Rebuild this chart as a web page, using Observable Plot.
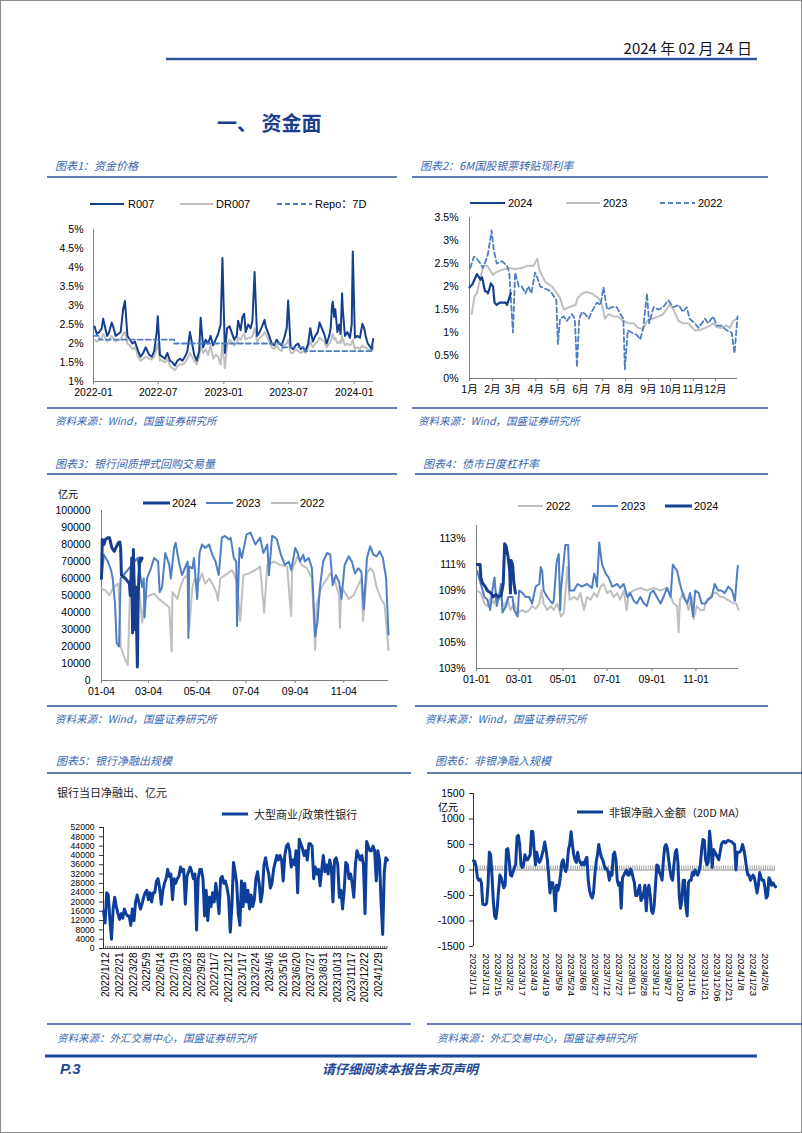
<!DOCTYPE html>
<html><head><meta charset="utf-8">
<script src="https://cdn.jsdelivr.net/npm/d3@7"></script>
<script src="https://cdn.jsdelivr.net/npm/@observablehq/plot@0.6"></script>
<style>
html,body{margin:0;padding:0;background:#fff;}
#page{position:relative;width:802px;height:1133px;overflow:hidden;background:#fff;}
</style></head><body><div id="page"></div>
<script>
// ---------------- DATA ----------------
// Chart 1: 资金价格
const c1Dates = ["2022-01-04","2022-01-10","2022-01-17","2022-01-24","2022-01-28","2022-02-08","2022-02-14","2022-02-21","2022-02-25","2022-03-04","2022-03-11","2022-03-18","2022-03-25","2022-03-30","2022-04-06","2022-04-13","2022-04-20","2022-04-27","2022-05-06","2022-05-13","2022-05-20","2022-05-27","2022-06-06","2022-06-13","2022-06-20","2022-06-27","2022-06-30","2022-07-06","2022-07-13","2022-07-20","2022-07-27","2022-08-03","2022-08-10","2022-08-17","2022-08-24","2022-08-31","2022-09-07","2022-09-14","2022-09-21","2022-09-28","2022-10-10","2022-10-17","2022-10-24","2022-10-28","2022-11-04","2022-11-11","2022-11-18","2022-11-25","2022-12-02","2022-12-09","2022-12-16","2022-12-23","2022-12-28","2023-01-04","2023-01-10","2023-01-17","2023-01-30","2023-02-06","2023-02-10","2023-02-17","2023-02-22","2023-02-27","2023-03-03","2023-03-10","2023-03-17","2023-03-22","2023-03-28","2023-04-04","2023-04-11","2023-04-18","2023-04-25","2023-04-28","2023-05-08","2023-05-15","2023-05-22","2023-05-29","2023-06-05","2023-06-12","2023-06-19","2023-06-26","2023-06-30","2023-07-07","2023-07-14","2023-07-21","2023-07-28","2023-08-04","2023-08-11","2023-08-18","2023-08-25","2023-08-31","2023-09-07","2023-09-14","2023-09-21","2023-09-26","2023-10-09","2023-10-16","2023-10-23","2023-10-27","2023-10-31","2023-11-02","2023-11-06","2023-11-09","2023-11-15","2023-11-20","2023-11-24","2023-11-28","2023-11-30","2023-12-06","2023-12-13","2023-12-20","2023-12-25","2023-12-28","2024-01-03","2024-01-10","2024-01-17","2024-01-24","2024-01-29","2024-02-02","2024-02-08","2024-02-19","2024-02-23"];
const r007 = [2.45,2.25,2.30,2.40,2.65,2.20,2.30,2.55,2.45,2.20,2.25,2.30,2.90,3.12,2.20,2.10,2.00,2.05,1.80,1.65,1.75,1.90,1.70,1.65,1.80,2.30,2.72,1.70,1.65,1.60,1.75,1.55,1.50,1.42,1.55,1.60,1.55,1.65,1.80,2.30,1.70,1.55,1.80,2.68,1.90,2.10,2.00,2.20,1.95,2.10,2.25,2.50,4.25,1.75,2.40,2.45,2.10,2.20,2.60,2.35,2.70,2.78,2.30,2.50,2.40,2.60,3.88,2.20,2.30,2.45,2.62,2.45,2.20,2.00,1.95,2.10,2.00,1.95,2.15,2.40,3.13,1.90,1.85,1.95,2.00,1.85,1.90,1.80,2.00,2.40,2.05,2.20,2.30,2.55,2.25,2.00,2.20,2.40,3.00,3.10,2.70,2.90,2.30,2.50,2.25,3.32,2.90,2.20,2.30,2.15,2.50,4.42,2.15,2.20,2.15,2.52,2.40,2.20,2.00,1.85,2.12];
const dr007 = [2.10,2.05,2.10,2.15,2.25,2.05,2.10,2.20,2.15,2.05,2.10,2.10,2.25,2.30,2.00,1.95,1.85,1.90,1.65,1.55,1.60,1.65,1.60,1.58,1.65,1.90,2.00,1.55,1.55,1.50,1.60,1.40,1.35,1.30,1.40,1.45,1.45,1.50,1.60,1.75,1.55,1.45,1.65,1.95,1.75,1.85,1.70,1.95,1.60,1.70,1.65,1.45,2.00,1.35,1.95,2.10,1.95,2.00,2.15,2.10,2.20,2.25,2.10,2.15,2.15,2.20,2.40,2.05,2.15,2.20,2.30,2.25,2.05,1.90,1.85,1.95,1.85,1.80,1.95,2.00,2.10,1.75,1.75,1.85,1.80,1.75,1.80,1.75,1.90,2.05,1.90,2.00,2.05,2.15,2.05,1.90,2.00,2.05,2.20,2.25,2.10,2.15,2.00,2.05,2.00,2.20,2.10,1.95,2.00,1.95,2.00,2.10,1.85,1.90,1.85,1.95,1.90,1.90,1.85,1.80,1.90];
const repoDates = ["2022-01-01","2022-01-17","2022-08-15","2023-06-13","2023-08-15","2024-02-23"];
const repoRate = [2.2,2.1,2.0,1.9,1.8,1.8];
const c1YTicks = [1,1.5,2,2.5,3,3.5,4,4.5,5];
const c1XTicks = ["2022-01-01","2022-07-01","2023-01-01","2023-07-01","2024-01-01"];

// Chart 2: 6M国股银票转贴现利率 (day of year)
const c2Doy2024 = [1,5,11,14,16,18,22,25,26,28,30,33,35,38,42,50,52,57];
const c2Val2024 = [1.98,2.05,2.27,2.2,2.15,2.2,1.9,1.88,1.85,1.95,2.07,2.0,1.65,1.6,1.65,1.65,1.6,1.85];
const c2Doy2023 = [4,8,11,16,20,25,29,33,36,43,54,63,72,79,88,93,96,104,113,120,124,129,136,145,148,154,160,167,176,181,185,190,197,203,210,217,224,230,237,242,249,258,264,273,278,285,291,298,307,314,321,328,332,337,343,350,355,359,364];
const c2Val2023 = [1.4,1.8,1.85,2.2,2.45,2.45,2.35,2.25,2.3,2.35,2.4,2.38,2.4,2.45,2.45,2.6,2.35,2.1,2.0,1.85,1.75,1.5,1.55,1.6,1.75,1.85,1.88,1.85,1.75,1.6,1.3,1.4,1.35,1.35,1.25,1.2,1.2,1.1,1.08,1.25,1.3,1.35,1.4,1.6,1.5,1.25,1.2,1.2,1.05,1.05,1.1,1.15,1.2,1.12,1.1,1.15,1.1,1.25,1.3];
const c2Doy2022 = [2,7,11,16,19,23,26,31,34,38,45,52,55,60,63,68,72,77,81,85,90,93,97,104,111,115,119,121,124,129,133,140,144,147,150,154,158,163,167,174,179,183,188,194,201,206,210,212,216,221,228,233,237,242,245,251,258,264,271,278,285,291,296,300,307,312,321,325,332,337,343,350,357,361,365];
const c2Val2022 = [2.4,2.65,2.6,2.5,2.4,2.55,2.7,3.22,2.8,2.5,2.55,2.45,2.3,1.0,2.3,2.0,2.0,1.85,2.0,1.85,2.3,2.2,2.0,1.95,1.9,1.8,1.7,0.75,1.3,1.35,1.25,1.4,1.3,0.25,1.3,1.45,1.4,1.3,1.45,1.65,1.6,1.98,1.5,1.55,1.55,1.4,1.3,0.2,1.05,1.0,0.95,0.85,1.1,1.85,1.2,1.55,1.5,1.55,1.7,1.55,1.6,1.45,1.55,1.3,1.2,1.1,1.3,1.2,1.35,1.15,1.15,1.05,1.0,0.55,1.35];
const c2MonthDoy = [1,32,60,91,121,152,182,213,244,274,305,335];
const c2MonthLabels = ["1月","2月","3月","4月","5月","6月","7月","8月","9月","10月","11月","12月"];
const c2YTicks = [0,0.5,1,1.5,2,2.5,3,3.5];

// Chart 3: 银行间质押式回购交易量 (亿元, day of year)
const c3Doy2024 = [4,5,7,9,12,14,17,20,22,25,27,28,29,34,39,40,42,43,44,46,47,49,50,52,53,55];
const c3Val2024 = [60000,83000,80000,83000,84000,84000,78000,76000,78000,81000,81500,78000,62000,60000,57000,50000,72000,28000,77000,30000,55000,8000,50000,72000,70000,72000];
const c3Doy2023 = [4,7,12,16,18,21,23,26,28,37,49,55,57,58,61,66,70,75,77,80,84,89,91,95,97,101,105,112,113,114,118,120,124,127,130,134,139,143,147,151,155,159,164,166,170,173,174,177,180,186,191,197,203,207,212,214,218,222,224,229,234,239,242,247,250,253,257,259,264,268,272,275,278,282,287,291,294,298,302,305,309,314,318,322,326,330,333,337,341,345,349,353,357,361,364];
const c3Val2023 = [60000,74000,70000,65000,60000,45000,22000,20000,60000,65000,72000,55000,60000,37000,60000,66000,72000,70000,52000,55000,75000,68000,60000,78000,81000,70000,62000,70000,25000,67000,66000,72000,48000,75000,80000,78000,80000,74000,70000,62000,84000,85000,83000,84000,72000,70000,32000,78000,72000,86000,87000,80000,84000,75000,80000,62000,85000,84000,83000,74000,68000,70000,65000,78000,75000,70000,74000,70000,72000,66000,26000,35000,55000,70000,75000,74000,56000,62000,58000,48000,68000,73000,70000,63000,66000,64000,42000,72000,79000,74000,73000,76000,72000,60000,27000];
const c3Doy2022 = [4,9,14,18,22,25,27,28,34,37,40,45,49,51,55,58,64,70,76,84,89,92,93,99,103,107,112,114,118,121,126,130,134,139,143,148,150,153,159,168,174,178,182,189,197,203,208,212,220,228,237,240,242,243,250,255,262,268,272,274,280,287,291,297,302,303,305,309,314,320,326,330,332,337,341,345,349,353,357,359,364];
const c3Val2022 = [54000,53000,50000,54000,56000,57000,40000,20000,12000,9000,55000,60000,50000,55000,34000,48000,50000,51000,48000,45000,43000,17000,52000,48000,55000,60000,62000,30000,55000,60000,58000,63000,57000,60000,57000,52000,47000,60000,62000,65000,58000,35000,62000,63000,65000,67000,40000,68000,70000,68000,67000,48000,38000,65000,73000,68000,66000,60000,18000,45000,55000,60000,63000,58000,50000,31000,55000,52000,48000,50000,56000,60000,35000,63000,66000,64000,55000,50000,46000,45000,18000];
const c3XTickDoy = [4,63,124,185,247,308];
const c3XLabels = ["01-04","03-04","05-04","07-04","09-04","11-04"];

// Chart 4: 债市日度杠杆率 (%, day of year)
const c4Doy2024 = [2,6,7,9,13,16,21,24,28,31,35,38,40,42,45,47,48,49,51,53,55];
const c4Val2024 = [111.0,111.0,110.0,109.6,109.3,109.0,108.8,108.5,108.7,108.5,108.6,109.5,112.6,112.4,111.5,110.5,108.8,111.3,111.0,109.5,108.8];
const c4Doy2023 = [2,7,12,16,20,23,26,29,32,35,37,42,45,51,53,58,60,65,69,74,78,83,88,90,92,94,99,106,108,112,115,117,118,124,128,130,136,141,147,154,161,164,166,168,171,175,180,184,189,196,200,205,210,214,219,223,228,233,237,242,246,251,256,260,265,270,273,279,283,288,293,297,301,304,309,313,318,322,327,331,336,340,345,350,355,359,363];
const c4Val2023 = [110.5,109.5,108.5,108.3,107.5,109.0,110.0,107.8,108.5,109.5,107.3,107.8,108.5,108.5,107.5,107.0,109.0,108.8,108.5,108.5,108.0,109.3,109.5,110.8,110.5,109.0,108.5,108.0,108.2,111.2,111.8,107.5,109.0,112.5,112.5,109.0,109.0,109.5,109.3,109.5,109.2,110.3,110.0,109.3,112.7,111.0,110.3,110.0,109.3,109.5,109.2,109.5,108.5,108.8,108.2,108.0,108.5,108.0,107.8,108.8,109.0,108.5,108.0,108.5,109.2,108.5,111.0,110.5,109.5,108.5,108.0,108.8,107.0,109.0,108.8,108.0,108.0,108.3,108.5,109.5,109.0,109.0,108.8,109.3,109.0,108.2,110.9];
const c4Doy2022 = [2,7,12,16,21,25,30,35,39,44,48,53,58,65,69,74,78,83,88,91,94,99,104,108,113,118,122,127,130,136,141,145,150,154,159,164,168,173,177,182,187,191,196,200,205,209,212,219,228,237,246,256,265,274,279,281,283,288,295,299,302,306,311,316,320,325,329,334,339,343,348,352,357,361,364];
const c4Val2022 = [109.0,108.8,108.0,107.8,108.5,108.0,108.5,108.3,107.8,108.3,107.5,108.0,107.3,107.5,107.3,107.5,107.8,107.6,108.0,109.0,108.0,107.5,107.8,107.5,108.0,107.0,107.3,110.8,108.3,108.5,108.3,108.8,107.5,108.5,108.3,108.8,108.5,109.3,109.5,108.8,109.0,108.5,108.8,108.3,109.0,107.5,108.8,109.0,109.2,109.0,109.2,109.0,109.2,108.0,107.8,105.8,108.3,108.8,107.5,108.5,106.8,107.8,107.5,107.5,108.3,108.5,108.8,108.8,108.5,108.5,108.3,108.2,108.0,108.0,107.5];
const c4XTickDoy = [1,60,121,182,244,305];
const c4XLabels = ["01-01","03-01","05-01","07-01","09-01","11-01"];
const c4YTicks = [103,105,107,109,111,113];

// Chart 5: 银行当日净融出 (亿元), trading days 2022/1/4 - 2024/2/23, regular samples
const c5Vals = [16000,11000,24000,23000,12000,4000,17000,22000,18000,15000,12500,15000,13000,17000,15000,14000,14000,10000,17000,12000,20000,23000,20000,17000,19000,22000,24000,25000,21000,24000,20000,24000,24000,29000,30000,26000,19000,25000,28000,30000,34000,31000,32000,21000,30000,28000,30000,31000,35000,33000,34000,19000,31000,33000,35000,33000,30000,32000,8000,30000,34000,34000,30000,14000,25000,12000,22000,18000,24000,20000,28000,22000,15000,30000,31000,28000,29000,26000,22000,7000,18000,37000,33000,28000,15000,10000,29000,18000,28000,20000,25000,17000,23000,18000,21000,30000,33000,28000,20000,24000,36000,39000,35000,32000,26000,28000,34000,37000,40000,38000,40000,38000,29000,40000,44000,45000,42000,35000,38000,36000,42000,24000,47000,45000,43000,40000,42000,38000,45000,45000,44000,30000,35000,32000,34000,27000,34000,40000,33000,36000,32000,38000,35000,20000,38000,39000,36000,22000,25000,17000,25000,37000,36000,30000,32000,28000,22000,36000,42000,40000,38000,40000,36000,15000,46000,44000,42000,42000,44000,42000,29000,42000,38000,20000,6000,33000,39000,38000];
const c5Labels = ["2022/1/12","2022/2/21","2022/3/28","2022/5/9","2022/6/14","2022/7/19","2022/8/23","2022/9/28","2022/11/7","2022/12/12","2023/1/17","2023/2/24","2023/4/6","2023/5/16","2023/6/20","2023/7/27","2023/8/31","2023/10/13","2023/11/17","2023/12/22","2024/1/29"];

// Chart 6: 非银净融入金额（20D MA）, trading days 2023/1/11 - 2024/2/23, regular samples
const c6Vals = [180,170,50,-150,-200,-180,-250,-670,-680,-680,-650,-300,350,300,-100,-600,-900,-950,-750,-400,-100,-150,-250,-350,-300,400,420,200,-100,-120,-30,50,100,650,680,500,100,50,100,300,200,200,250,300,760,750,400,100,350,200,150,200,300,400,550,400,200,-100,-450,-250,-250,-400,-800,-300,-400,-300,-100,150,200,50,-30,100,400,500,750,500,300,200,150,350,200,150,100,150,100,200,250,-200,-400,-500,-550,-450,-100,150,300,500,350,250,200,100,20,30,-40,-200,-50,-100,300,350,200,-200,-300,-250,-750,-150,-100,-50,0,-100,-100,20,-30,-150,-250,-500,-500,-400,-300,-600,-550,-450,-300,-800,-400,-300,-500,-800,-850,-700,-300,100,80,-50,-100,-200,200,450,500,420,200,0,-150,-200,100,350,400,150,-500,-750,-600,-200,-200,-700,-900,-250,-200,-200,-50,-100,0,-50,-100,-30,100,400,600,580,200,100,150,760,500,50,400,350,300,250,200,350,500,550,560,530,560,580,570,560,550,520,500,0,350,350,350,400,500,400,250,50,-100,-100,-200,-150,-100,-150,-300,-450,-300,-50,-150,-200,-200,-350,-550,-500,-150,-200,-300,-250,-300,-330];
const c6Labels = ["2023/1/11","2023/1/31","2023/2/15","2023/3/2","2023/3/17","2023/4/3","2023/4/19","2023/5/9","2023/5/24","2023/6/8","2023/6/27","2023/7/12","2023/7/27","2023/8/11","2023/8/28","2023/9/12","2023/9/27","2023/10/20","2023/11/6","2023/11/21","2023/12/06","2023/12/21","2024/1/8","2024/1/23","2024/2/6"];

// ---------------- STYLE ----------------
const DARK = "#153f8e", MID = "#4f7ec3", GREY = "#bfbfbf", LINE5 = "#0d3f9a";
const AXIS = "#7f7f7f", TITLE = "#3864b0", RULE = "#2e5597";
const FONT = "'Liberation Sans', Arial, 'Noto Sans CJK SC', sans-serif";
const CJK = "'Noto Sans CJK SC', 'Liberation Sans', sans-serif";
const baseStyle = {background: "transparent", fontFamily: FONT, fontSize: "10.5px", color: "#000", overflow: "visible"};
const page = document.getElementById("page");
function place(svg, left, top) {
  svg.style.position = "absolute"; svg.style.left = left + "px"; svg.style.top = top + "px";
  svg.style.maxWidth = "none"; page.appendChild(svg);
}
const zip = (xs, ys) => xs.map((x, i) => ({x, v: ys[i]}));

// ---------------- CHART 1 ----------------
const c1Data = c1Dates.map((d, i) => ({date: new Date(d), r: r007[i], dr: dr007[i]}));
const repoData = repoDates.map((d, i) => ({date: new Date(d), v: repoRate[i]}));
const c1x0 = new Date("2022-01-01");
place(Plot.plot({
  width: 365, height: 195, marginLeft: 53, marginRight: 32, marginTop: 14, marginBottom: 29,
  style: baseStyle,
  x: {type: "utc", domain: [c1x0, new Date("2024-02-24")]},
  y: {domain: [1, 5]},
  marks: [
    Plot.axisY({ticks: c1YTicks, tickFormat: d => d + "%", tickSize: 0, tickPadding: 10, label: null, fill: "#000"}),
    Plot.axisX({ticks: c1XTicks.map(d => new Date(d)), tickFormat: d3.utcFormat("%Y-%m"), tickSize: 3, tickPadding: 4, label: null, stroke: AXIS, fill: "#000"}),
    Plot.ruleY([1], {stroke: AXIS}),
    Plot.ruleX([c1x0], {stroke: AXIS}),
    Plot.line(c1Data, {x: "date", y: "dr", stroke: GREY, strokeWidth: 2}),
    Plot.line(c1Data, {x: "date", y: "r", stroke: DARK, strokeWidth: 2}),
    Plot.line(repoData, {x: "date", y: "v", curve: "step-after", stroke: MID, strokeWidth: 1.8, strokeDasharray: "5,3"})
  ]
}), 40, 215);

// ---------------- CHART 2 ----------------
place(Plot.plot({
  width: 345, height: 200, marginLeft: 49, marginRight: 28, marginTop: 12, marginBottom: 27,
  style: baseStyle,
  x: {domain: [1, 365]},
  y: {domain: [0, 3.5]},
  marks: [
    Plot.axisY({ticks: c2YTicks, tickFormat: d => d + "%", tickSize: 0, tickPadding: 11, label: null, fill: "#000"}),
    Plot.axisX({ticks: c2MonthDoy, tickFormat: d => c2MonthLabels[c2MonthDoy.indexOf(d)], tickSize: 3, tickPadding: 4, label: null, stroke: AXIS, fill: "#000"}),
    Plot.ruleY([0], {stroke: AXIS}),
    Plot.ruleX([1], {stroke: AXIS}),
    Plot.line(zip(c2Doy2023, c2Val2023), {x: "x", y: "v", stroke: GREY, strokeWidth: 2}),
    Plot.line(zip(c2Doy2022, c2Val2022), {x: "x", y: "v", stroke: MID, strokeWidth: 1.8, strokeDasharray: "5,3"}),
    Plot.line(zip(c2Doy2024, c2Val2024), {x: "x", y: "v", stroke: DARK, strokeWidth: 2.2})
  ]
}), 420, 205);

// ---------------- CHART 3 ----------------
place(Plot.plot({
  width: 355, height: 205, marginLeft: 56, marginRight: 12, marginTop: 10, marginBottom: 25,
  style: baseStyle,
  x: {domain: [4, 364]},
  y: {domain: [0, 100000]},
  marks: [
    Plot.axisY({ticks: d3.range(0, 100001, 10000), tickFormat: d => String(d), tickSize: 0, tickPadding: 11, label: null, fill: "#000"}),
    Plot.axisX({ticks: c3XTickDoy, tickFormat: d => c3XLabels[c3XTickDoy.indexOf(d)], tickSize: 3, tickPadding: 4, label: null, stroke: AXIS, fill: "#000"}),
    Plot.ruleY([0], {stroke: AXIS}),
    Plot.ruleX([4], {stroke: AXIS}),
    Plot.line(zip(c3Doy2022, c3Val2022), {x: "x", y: "v", stroke: GREY, strokeWidth: 2}),
    Plot.line(zip(c3Doy2023, c3Val2023), {x: "x", y: "v", stroke: MID, strokeWidth: 2}),
    Plot.line(zip(c3Doy2024, c3Val2024), {x: "x", y: "v", stroke: DARK, strokeWidth: 3})
  ]
}), 45, 500);

// ---------------- CHART 4 ----------------
place(Plot.plot({
  width: 330, height: 180, marginLeft: 51, marginRight: 17, marginTop: 10, marginBottom: 27,
  style: baseStyle,
  x: {domain: [1, 364]},
  y: {domain: [103, 114]},
  marks: [
    Plot.axisY({ticks: c4YTicks, tickFormat: d => d + "%", tickSize: 0, tickPadding: 11, label: null, fill: "#000"}),
    Plot.axisX({ticks: c4XTickDoy, tickFormat: d => c4XLabels[c4XTickDoy.indexOf(d)], tickSize: 3, tickPadding: 4, label: null, stroke: AXIS, fill: "#000"}),
    Plot.ruleY([103], {stroke: AXIS}),
    Plot.ruleX([1], {stroke: AXIS}),
    Plot.line(zip(c4Doy2022, c4Val2022), {x: "x", y: "v", stroke: GREY, strokeWidth: 2}),
    Plot.line(zip(c4Doy2023, c4Val2023), {x: "x", y: "v", stroke: MID, strokeWidth: 2}),
    Plot.line(zip(c4Doy2024, c4Val2024), {x: "x", y: "v", stroke: DARK, strokeWidth: 3})
  ]
}), 425, 515);

// ---------------- CHART 5 ----------------
const c5N = 521;
const c5Data = c5Vals.map((v, i) => ({x: i * c5N / (c5Vals.length - 1), v}));
const c5TickIdx = c5Labels.map((_, k) => 5 + 25 * k);
place(Plot.plot({
  width: 360, height: 205, marginLeft: 58, marginRight: 18, marginTop: 12, marginBottom: 72,
  style: baseStyle,
  x: {domain: [0, c5N]},
  y: {domain: [0, 52000]},
  marks: [
    Plot.axisY({ticks: d3.range(0, 52001, 4000), tickFormat: d => String(d), tickSize: 4, tickPadding: 5, label: null, stroke: "#333", fill: "#000", fontSize: 8.6}),
    Plot.axisX({ticks: c5TickIdx, tickFormat: d => c5Labels[c5TickIdx.indexOf(d)], tickRotate: -90, tickSize: 0, tickPadding: 4, label: null, fill: "#000", fontSize: 10}),
    Plot.ruleX(d3.range(0, c5N, 4), {y1: 0, y2: 900, stroke: "#333", strokeWidth: 0.8}),
    Plot.ruleY([0], {stroke: "#333"}),
    Plot.ruleX([0], {stroke: "#333"}),
    Plot.line(c5Data, {x: "x", y: "v", stroke: LINE5, strokeWidth: 3})
  ]
}), 45, 815);

// ---------------- CHART 6 ----------------
const c6N = 273;
const c6Data = c6Vals.map((v, i) => ({x: i * c6N / (c6Vals.length - 1), v}));
const c6TickIdx = c6Labels.map((_, k) => 11 * k);
place(Plot.plot({
  width: 370, height: 240, marginLeft: 48, marginRight: 20, marginTop: 13, marginBottom: 74,
  style: baseStyle,
  x: {domain: [0, c6N]},
  y: {domain: [-1500, 1500]},
  marks: [
    Plot.axisY({ticks: d3.range(-1500, 1501, 500), tickFormat: d => String(d), tickSize: 4, tickPadding: 5, label: null, stroke: "#333", fill: "#000"}),
    Plot.axisX({ticks: c6TickIdx, tickFormat: d => c6Labels[c6TickIdx.indexOf(d)], tickRotate: 90, tickSize: 0, tickPadding: 7, label: null, fill: "#000", fontSize: 9.6}),
    Plot.ruleX(d3.range(0, c6N, 2), {y1: 0, y2: 80, stroke: "#8c8c8c", strokeWidth: 0.8}),
    Plot.ruleY([0], {stroke: "#8c8c8c"}),
    Plot.ruleX([0], {stroke: "#333"}),
    Plot.line(c6Data, {x: "x", y: "v", stroke: LINE5, strokeWidth: 3})
  ]
}), 425, 780);

// ---------------- PAGE TEXT & DECORATION ----------------
const ov = d3.create("svg").attr("width", 802).attr("height", 1133)
  .style("position", "absolute").style("left", "0px").style("top", "0px");
function hl(x1, x2, y, w, c) {
  ov.append("line").attr("x1", x1).attr("x2", x2).attr("y1", y).attr("y2", y).attr("stroke", c).attr("stroke-width", w);
}
function tx(x, y, s, o = {}) {
  ov.append("text").attr("x", x).attr("y", y).attr("dominant-baseline", "central")
    .attr("font-family", o.ff || FONT).attr("font-size", o.fs || 10.5)
    .attr("font-style", o.it ? "italic" : null).attr("font-weight", o.bold ? "bold" : null)
    .attr("fill", o.c || "#000").attr("text-anchor", o.anchor || "start").text(s);
}
function leg(x1, x2, y, color, w, dash, label, tx0, o = {}) {
  ov.append("line").attr("x1", x1).attr("x2", x2).attr("y1", y).attr("y2", y)
    .attr("stroke", color).attr("stroke-width", w).attr("stroke-dasharray", dash);
  tx(tx0, y, label, o);
}
ov.append("rect").attr("x", 0.5).attr("y", 0.5).attr("width", 801).attr("height", 1132).attr("fill", "none").attr("stroke", "#8a8a8a");

// header
tx(752, 47, "2024 年 02 月 24 日", {anchor: "end", fs: 15, ff: "'Liberation Sans Narrow', 'Noto Sans CJK SC', sans-serif", c: "#111"});
hl(166, 757, 59, 2.5, RULE);
tx(217, 122, "一、 资金面", {fs: 20, bold: true, ff: CJK, c: "#1b3d8c"});

const srcWind = "资料来源：Wind，国盛证券研究所";
const srcCfets = "资料来源：外汇交易中心，国盛证券研究所";
const tStyle = {fs: 11, it: true, c: TITLE, ff: CJK};
const sStyle = {fs: 10.5, it: true, c: TITLE, ff: CJK};

// row 1
tx(55, 165, "图表1：资金价格", tStyle); hl(47, 397, 177, 1.5, RULE);
tx(420, 165, "图表2：6M国股银票转贴现利率", tStyle); hl(412, 768, 177, 1.5, RULE);
hl(47, 397, 408, 1.5, RULE); tx(55, 420, srcWind, sStyle);
hl(412, 768, 408, 1.5, RULE); tx(418, 420, srcWind, sStyle);
leg(90, 124, 204, DARK, 2, null, "R007", 128, {fs: 11});
leg(180, 213, 204, GREY, 2, null, "DR007", 216, {fs: 11});
leg(277, 312, 204, MID, 1.8, "5,3", "Repo：7D", 315, {fs: 11});
leg(470, 505, 203, DARK, 2, null, "2024", 508, {fs: 11});
leg(566, 600, 203, GREY, 2, null, "2023", 603, {fs: 11});
leg(660, 695, 203, MID, 1.8, "5,3", "2022", 698, {fs: 11});

// row 2
tx(55, 463, "图表3：银行间质押式回购交易量", tStyle); hl(47, 397, 474, 1.5, RULE);
tx(423, 463, "图表4：债市日度杠杆率", tStyle); hl(415, 768, 474, 1.5, RULE);
hl(47, 397, 706, 1.5, RULE); tx(55, 718, srcWind, sStyle);
hl(415, 768, 706, 1.5, RULE); tx(425, 718, srcWind, sStyle);
tx(58, 493, "亿元", {fs: 10, ff: CJK});
leg(143, 170, 503, DARK, 3, null, "2024", 172, {fs: 11});
leg(206, 233, 503, MID, 2, null, "2023", 236, {fs: 11});
leg(271, 298, 503, GREY, 2, null, "2022", 300, {fs: 11});
leg(518, 543, 506, GREY, 2, null, "2022", 546, {fs: 11});
leg(592, 618, 506, MID, 2, null, "2023", 621, {fs: 11});
leg(665, 692, 506, DARK, 3, null, "2024", 694, {fs: 11});

// row 3
tx(56, 760, "图表5：银行净融出规模", tStyle); hl(47, 411, 773, 1.5, RULE);
tx(435, 760, "图表6：非银净融入规模", tStyle); hl(427, 802, 773, 1.5, RULE);
hl(47, 411, 1024, 1.5, RULE); tx(57, 1037, srcCfets, sStyle);
hl(427, 802, 1024, 1.5, RULE); tx(437, 1037, srcCfets, sStyle);
tx(57, 792, "银行当日净融出、亿元", {fs: 11, ff: CJK, c: "#222"});
leg(222, 248, 814, LINE5, 3, null, "大型商业/政策性银行", 254, {fs: 11, ff: CJK, c: "#222"});
tx(438, 806, "亿元", {fs: 10, ff: CJK});
leg(577, 603, 812, LINE5, 3, null, "非银净融入金额（20D MA）", 609, {fs: 11, ff: CJK, c: "#222"});

// footer
hl(45, 757, 1056, 3, "#1f4a96");
tx(60, 1068, "P.3", {fs: 15, bold: true, it: true, c: "#1f4a96"});
tx(400, 1068, "请仔细阅读本报告末页声明", {fs: 13, bold: true, it: true, anchor: "middle", ff: CJK, c: "#1f4a96"});

page.appendChild(ov.node());
</script></body></html>
